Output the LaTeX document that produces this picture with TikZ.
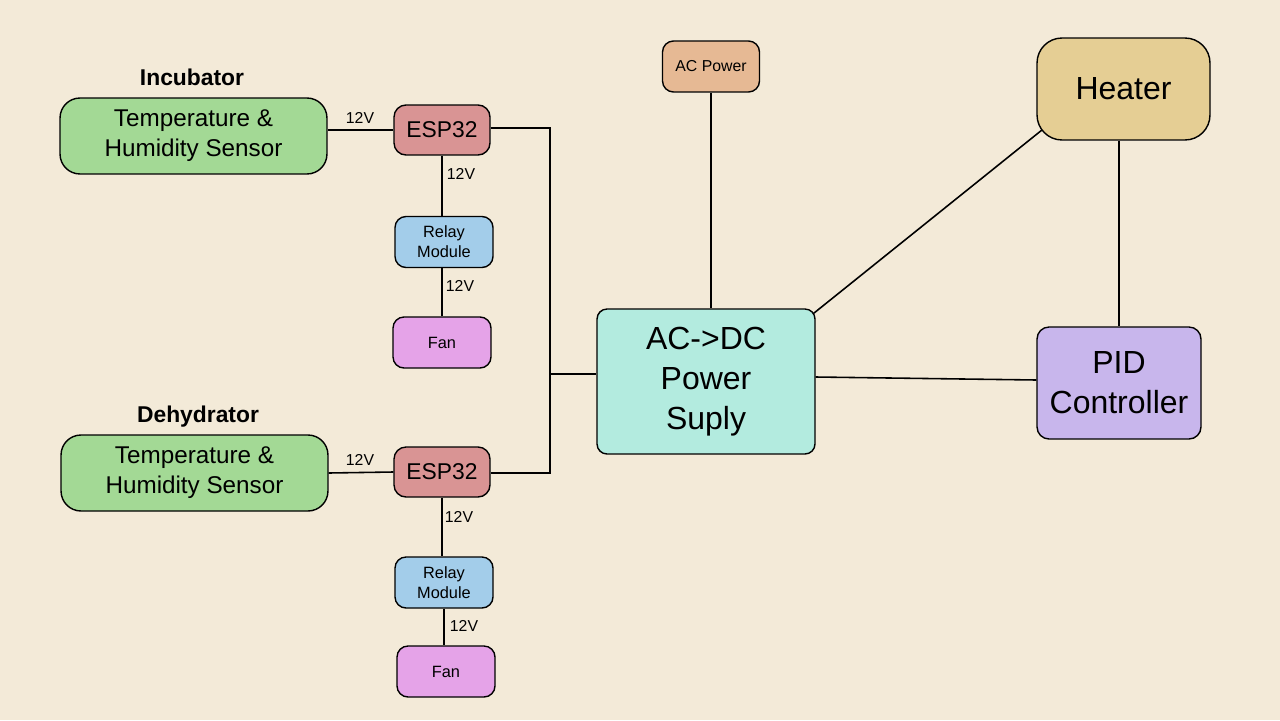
\documentclass[tikz,border=0pt]{standalone}
\usepackage{fontspec}
\setmainfont{Liberation Sans}
\usetikzlibrary{backgrounds}
\pgfdeclarelayer{edgelayer}
\pgfdeclarelayer{nodelayer}
\pgfsetlayers{edgelayer,nodelayer,main}
\definecolor{paper}{RGB}{243,234,216}
\definecolor{sensorcol}{RGB}{163,217,149}
\definecolor{espcol}{RGB}{217,148,148}
\definecolor{relaycol}{RGB}{163,205,234}
\definecolor{fancol}{RGB}{229,163,232}
\definecolor{supplycol}{RGB}{179,235,223}
\definecolor{accol}{RGB}{230,185,148}
\definecolor{heatercol}{RGB}{229,206,148}
\definecolor{pidcol}{RGB}{200,182,236}
\tikzset{x=0.02cm,y=-0.02cm}
\tikzstyle{none}=[inner sep=0pt]
\tikzstyle{wire}=[line width=0.9pt]
\tikzstyle{box}=[draw=black,line width=0.8pt,inner sep=0pt,align=center]
\tikzstyle{sensor}=[box,fill=sensorcol,rounded corners=0.4cm,minimum width=5.34cm,minimum height=1.52cm,font=\fontsize{13.8pt}{17.2pt}\selectfont]
\tikzstyle{esp}=[box,fill=espcol,rounded corners=0.24cm,minimum width=1.92cm,minimum height=1cm,font=\fontsize{13pt}{16pt}\selectfont]
\tikzstyle{small}=[box,rounded corners=0.22cm,minimum width=1.96cm,minimum height=1.02cm,font=\fontsize{9.3pt}{11.3pt}\selectfont]
\tikzstyle{big}=[box,font=\fontsize{18.2pt}{22.8pt}\selectfont]
\tikzstyle{volt}=[inner sep=0pt,font=\fontsize{9pt}{11pt}\selectfont]
\tikzstyle{title}=[inner sep=0pt,anchor=base,font=\bfseries\fontsize{13pt}{16pt}\selectfont]

\begin{document}
\begin{tikzpicture}
	\useasboundingbox (0,0) rectangle (1280,720);
	\begin{pgfonlayer}{nodelayer}
		\node [style=title] (0) at (192, 85) {Incubator};
		\node [style=sensor] (1) at (193.5, 136) {Temperature \&\\Humidity Sensor};
		\node [style=esp] (2) at (442, 130) {ESP32};
		\node [style=small, fill=relaycol] (3) at (444, 242) {Relay\\Module};
		\node [style=small, fill=fancol] (4) at (442, 342.5) {Fan};
		\node [style=title] (5) at (198, 422) {Dehydrator};
		\node [style=sensor] (6) at (194.5, 473) {Temperature \&\\Humidity Sensor};
		\node [style=esp] (7) at (442, 472) {ESP32};
		\node [style=small, fill=relaycol] (8) at (444, 582.5) {Relay\\Module};
		\node [style=small, fill=fancol] (9) at (446, 671.5) {Fan};
		\node [style=big, fill=supplycol, rounded corners=0.2cm, minimum width=4.36cm, minimum height=2.9cm] (10) at (706, 381.5) {AC->DC\\Power\\Suply};
		\node [style=small, fill=accol, minimum width=1.94cm, font=\fontsize{9pt}{11pt}\selectfont] (11) at (711, 66.5) {AC Power};
		\node [style=big, fill=heatercol, rounded corners=0.5cm, minimum width=3.46cm, minimum height=2.04cm] (12) at (1123.5, 89) {Heater};
		\node [style=big, fill=pidcol, rounded corners=0.24cm, minimum width=3.28cm, minimum height=2.24cm] (13) at (1119, 383) {PID\\Controller};
		\node [style=volt] (14) at (360, 118) {12V};
		\node [style=volt] (15) at (461, 174) {12V};
		\node [style=volt] (16) at (460, 286) {12V};
		\node [style=volt] (17) at (360, 460) {12V};
		\node [style=volt] (18) at (459, 517) {12V};
		\node [style=volt] (19) at (464, 626) {12V};
		\node [style=none] (20) at (550, 128) {};
		\node [style=none] (21) at (550, 374) {};
		\node [style=none] (22) at (550, 473) {};
	\end{pgfonlayer}
	\begin{pgfonlayer}{edgelayer}
		\fill [paper] (0,0) rectangle (1280,720);
		\draw [style=wire] (2.west) to (2.west -| 1.east);
		\draw [style=wire] (2.south) to (2.south |- 3.north);
		\draw [style=wire] (4.north) to (4.north |- 3.south);
		\draw [style=wire] (6.east) to (7.west);
		\draw [style=wire] (7.south) to (7.south |- 8.north);
		\draw [style=wire] (8.south) to (8.south |- 9.north);
		\draw [style=wire] (2.east |- 20.center) to (20.center) to (22.center) to (7.east |- 22.center);
		\draw [style=wire] (21.center) to (10.west |- 21.center);
		\draw [style=wire] (11.south) to (11.south |- 10.north);
		\draw [style=wire] ([yshift=0.09cm]10.east) to ([yshift=0.06cm]13.west);
		\draw [style=wire] ([shift={(-2,5)}]10.north east) to ([shift={(6,-11)}]12.south west);
		\draw [style=wire] (13.north |- 12.south) to (13.north);
	\end{pgfonlayer}
\end{tikzpicture}
\end{document}
